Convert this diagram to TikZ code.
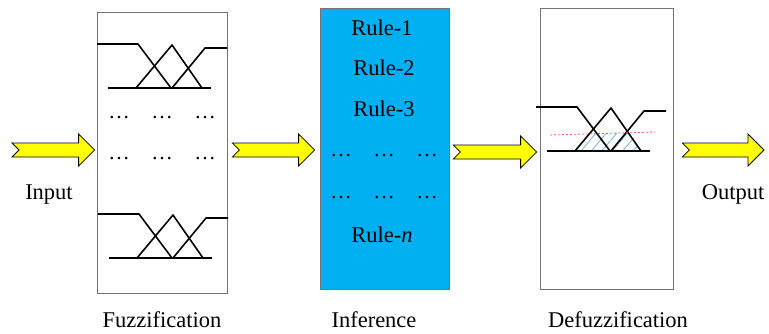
\documentclass[tikz,border=0pt]{standalone}
\usepackage{fontspec}
\setmainfont{Liberation Serif}
\usetikzlibrary{calc,patterns.meta}

\definecolor{infercyan}{RGB}{0,176,240}
\definecolor{arrowyellow}{RGB}{255,255,0}
\definecolor{hatchblue}{RGB}{120,175,225}

% yellow block arrow with a notched tail, from #1 to #2
\newcommand{\fatarrow}[2]{%
	\filldraw[arrowbody] let \p1=(#1), \p2=(#2) in
		(\x1,\y1+7pt) -- (\x2-16pt,\y1+7pt) -- (\x2-16pt,\y1+16pt) -- (\x2,\y1)
		-- (\x2-16pt,\y1-16pt) -- (\x2-16pt,\y1-7pt) -- (\x1,\y1-7pt)
		-- (\x1+7pt,\y1) -- cycle;
}

\begin{document}
\begin{tikzpicture}[
		x=1pt, y=-1pt,
		every node/.style={
			font=\fontsize{22.5}{25}\selectfont,
			inner sep=0pt
		},
		stagebox/.style={
			draw=black!55,
			line width=0.8pt,
			rectangle,
			minimum width=#1,
			minimum height=281pt
		},
		arrowbody/.style={
			draw=black,
			fill=arrowyellow,
			line width=0.8pt,
			line join=miter
		},
		mfline/.style={line width=1.6pt, line join=round},
		dotrow/.style={font=\fontsize{21.5}{24}\selectfont},
		pics/mfset/.style={
			code={
				\draw[mfline] (-75,-44) -- (-34,-44) -- (-1,0);
				\draw[mfline] (-36,0) -- (0,-43) -- (30,0);
				\draw[mfline] (0,0) -- (33,-40) -- (55,-40);
				\draw[mfline] (-64,0) -- (39,0);
			}
		}
		]
		
		\useasboundingbox (0,0) rectangle (769,333);
		
		% the three stages
		\node[stagebox=130pt] (fuzz) at (162,152.5) {};
		\node[stagebox=129pt, fill=infercyan] (infer) at (384.5,148.5) {};
		\node[stagebox=133pt] (defuzz) at (606.5,149) {};
		
		% fuzzification
		\pic at (172,88) {mfset};
		\node[dotrow] (fd1) at (162,118) {\dots\quad\dots\quad\dots};
		\node[dotrow] (fd2) at (162,159) {\dots\quad\dots\quad\dots};
		\pic at (173,258) {mfset};
		
		% inference rules
		\node (r1) at (382,28) {Rule-1};
		\node (r2) at (384,68) {Rule-2};
		\node (r3) at (384,109) {Rule-3};
		\node[dotrow] (id1) at (384,156) {\dots\quad\dots\quad\dots};
		\node[dotrow] (id2) at (384,198) {\dots\quad\dots\quad\dots};
		\node (rn) at (382,235) {Rule-\textit{n}};
		
		% defuzzification
		\begin{scope}
			\clip (576,151) -- (611,108) -- (642,151) -- cycle;
			\fill[pattern={Lines[angle=50,distance=8pt,line width=0.8pt]}, pattern color=hatchblue]
				(550,135) -- (655,132) -- (655,151) -- (550,151) -- cycle;
		\end{scope}
		\pic at (611,151) {mfset};
		\draw[red!65, line width=0.8pt, dash pattern=on 2pt off 2pt] (550,135) -- (655,132);
		
		% labels
		\node (inlabel) at (49,195) {Input};
		\node (outlabel) at (733,194) {Output};
		\node (fuzzlabel) at (162,320) {Fuzzification};
		\node (inferlabel) at (374,320) {Inference};
		\node (defuzzlabel) at (618,320) {Defuzzification};
		
		% connectors
		\coordinate (in) at (12,150);
		\coordinate (out) at (764,150);
		\fatarrow{in}{$(fuzz.west|-in)+(-2,0)$}
		\fatarrow{$(fuzz.east|-in)+(5,0)$}{$(infer.west|-in)+(-5,0)$}
		\fatarrow{$(infer.east|-in)+(4,2)$}{$(defuzz.west|-in)+(-3,2)$}
		\fatarrow{$(defuzz.east|-in)+(9,0)$}{out}
		
	\end{tikzpicture}
\end{document}
